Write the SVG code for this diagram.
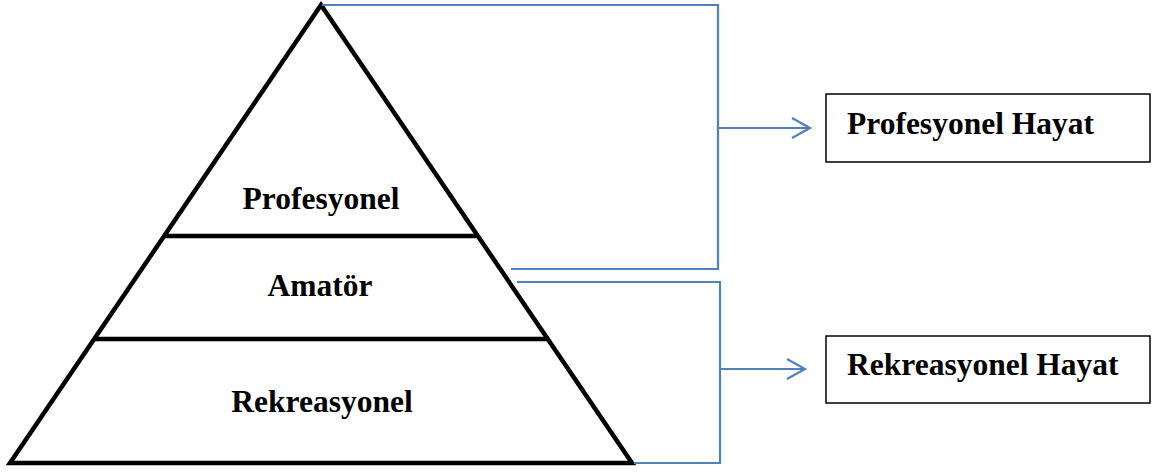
<svg xmlns="http://www.w3.org/2000/svg" width="1157" height="472" viewBox="0 0 1157 472">
  <style>
    .tri { fill: #fff; stroke: #000; stroke-width: 4.5; stroke-linejoin: miter; }
    .div { stroke: #000; stroke-width: 4.5; }
    .lbl { font-family: "Liberation Serif", "Times New Roman", serif; font-weight: bold; font-size: 31.5px; fill: #000; }
    .box { fill: #fff; stroke: #000; stroke-width: 1.5; }
    .conn { fill: none; stroke: #4F81BD; stroke-width: 2.2; }
  </style>
  <rect width="1157" height="472" fill="#fff"/>
  <g id="pyramid">
    <polygon class="tri" points="321,5 632,463 10,463"/>
    <line class="div" x1="164" y1="236" x2="478" y2="236"/>
    <line class="div" x1="94" y1="339" x2="548" y2="339"/>
  </g>
  <g id="layer-profesyonel">
    <text class="lbl" x="321" y="209" text-anchor="middle">Profesyonel</text>
  </g>
  <g id="layer-amator">
    <text class="lbl" x="320" y="296" text-anchor="middle">Amatör</text>
  </g>
  <g id="layer-rekreasyonel">
    <text class="lbl" x="322" y="412" text-anchor="middle">Rekreasyonel</text>
  </g>
  <g id="box-profesyonel-hayat">
    <rect class="box" x="826" y="94" width="324" height="68"/>
    <text class="lbl" x="847" y="134">Profesyonel Hayat</text>
  </g>
  <g id="box-rekreasyonel-hayat">
    <rect class="box" x="826" y="336" width="324" height="67"/>
    <text class="lbl" x="847" y="375">Rekreasyonel Hayat</text>
  </g>
  <g id="connectors">
    <polyline class="conn" points="322,5 718,5 718,269 511,269"/>
    <line class="conn" x1="718" y1="128" x2="809" y2="128"/>
    <polyline class="conn" points="792,118 810,128 792,138"/>
    <polyline class="conn" points="517,282 720,282 720,463 634,463"/>
    <line class="conn" x1="720" y1="369" x2="804" y2="369"/>
    <polyline class="conn" points="787,359 805,369 787,379"/>
  </g>
</svg>
